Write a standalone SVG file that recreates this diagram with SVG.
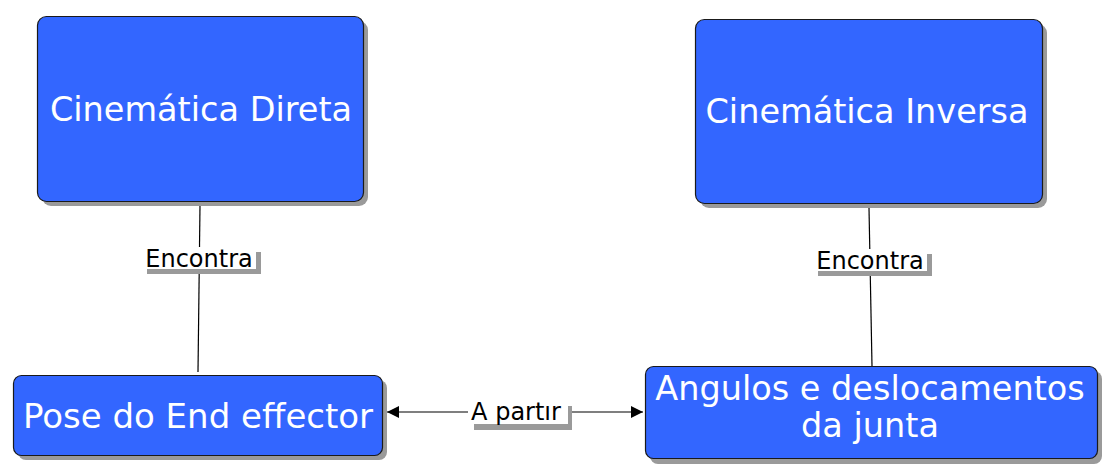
<svg xmlns="http://www.w3.org/2000/svg" width="1111" height="468" viewBox="0 0 1111 468">
<style>
.shadow{fill:#9a9a9a}
.box{fill:#3366ff;stroke:#1a1a1a;stroke-width:1.2}
.t{font-family:"DejaVu Sans","Liberation Sans",sans-serif;fill:#ffffff;text-anchor:middle}
.lbl{font-family:"DejaVu Sans","Liberation Sans",sans-serif;fill:#000000;text-anchor:middle;font-size:24px}
.lblbg{fill:#ffffff}
.edge{stroke:#000000;stroke-width:1.2;fill:none}
</style>
<defs>
<marker id="arr" viewBox="0 0 12 12" refX="12" refY="6" markerWidth="12" markerHeight="12" markerUnits="userSpaceOnUse" orient="auto-start-reverse">
<path d="M0,0 L12,6 L0,12 Z" fill="#000"/>
</marker>
</defs>
<rect width="1111" height="468" fill="#ffffff"/>
<g id="connectors">
<line class="edge" x1="200" y1="205" x2="198" y2="372"/>
<line class="edge" x1="869" y1="208" x2="872" y2="366"/>
<line class="edge" x1="387" y1="412" x2="643" y2="412" marker-start="url(#arr)" marker-end="url(#arr)"/>
<g id="label-encontra-1">
<rect class="shadow" x="147" y="252" width="114" height="22"/>
<rect class="lblbg" x="142" y="247" width="114" height="22"/>
<text class="lbl" x="199" y="267">Encontra</text>
</g>
<g id="label-encontra-2">
<rect class="shadow" x="818" y="254" width="114" height="22"/>
<rect class="lblbg" x="813" y="249" width="114" height="22"/>
<text class="lbl" x="870" y="269">Encontra</text>
</g>
<g id="label-apartir">
<rect class="shadow" x="474" y="406" width="98" height="24"/>
<rect class="lblbg" x="468" y="400" width="100" height="24"/>
<text class="lbl" x="516" y="419.5">A partır</text>
</g>
</g>
<g id="node-direta">
<rect class="shadow" x="42" y="21" width="326" height="185" rx="9"/>
<rect class="box" x="37.5" y="16.5" width="326" height="185" rx="9"/>
<text class="t" x="201" y="121" font-size="33.5">Cinemática Direta</text>
</g>
<g id="node-inversa">
<rect class="shadow" x="700" y="24" width="347" height="184" rx="9"/>
<rect class="box" x="695.5" y="19.5" width="347" height="184" rx="9"/>
<text class="t" x="867" y="122.5" font-size="33.5">Cinemática Inversa</text>
</g>
<g id="node-pose">
<rect class="shadow" x="18" y="380" width="369" height="80" rx="8"/>
<rect class="box" x="13.5" y="375.5" width="369" height="80" rx="8"/>
<text class="t" x="198" y="427.5" font-size="34">Pose do End effector</text>
</g>
<g id="node-angulos">
<rect class="shadow" x="650" y="371" width="452" height="93" rx="8"/>
<rect class="box" x="645.5" y="366.5" width="452" height="92" rx="8"/>
<text class="t" x="870" y="400" font-size="33.5">Angulos e deslocamentos</text>
<text class="t" x="870" y="437" font-size="33.5">da junta</text>
</g>
</svg>
